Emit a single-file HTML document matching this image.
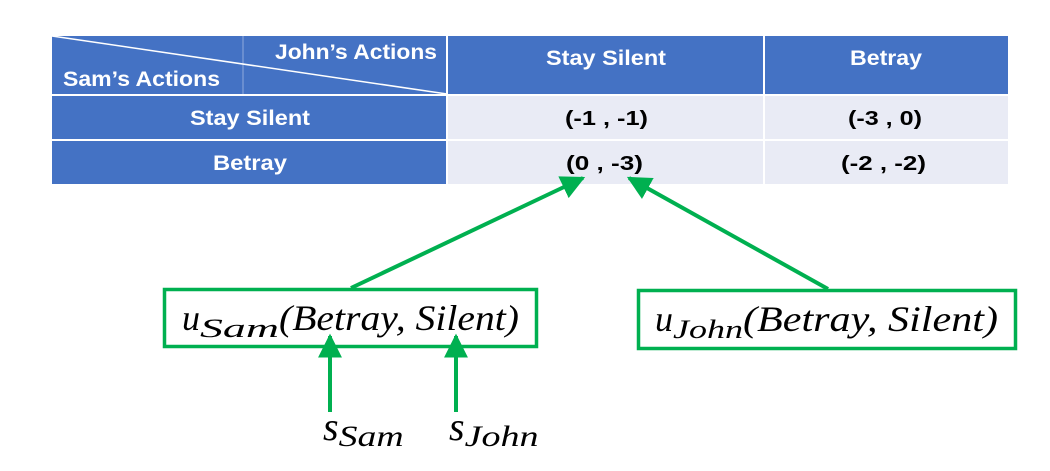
<!DOCTYPE html>
<html><head><style>
body{margin:0;background:#fff;width:1050px;height:471px;overflow:hidden}
svg{display:block}
.h{font-family:"Liberation Sans",sans-serif;font-weight:bold;fill:#fff;font-size:21px}
.c{font-family:"Liberation Sans",sans-serif;font-weight:bold;fill:#000;font-size:20px}
.m{font-family:"Liberation Serif",serif;font-style:italic;fill:#000}
</style></head><body>
<svg width="1050" height="471" viewBox="0 0 1050 471">
<defs>
<marker id="b" viewBox="0 0 10 10" refX="9" refY="5" markerWidth="24" markerHeight="24" orient="auto" markerUnits="userSpaceOnUse"><path d="M0,0L10,5L0,10z" fill="#00B050"/></marker></defs>
<rect x="52" y="36" width="395" height="148" fill="#4472C4"/>
<rect x="447" y="36" width="561" height="59" fill="#4472C4"/>
<rect x="447" y="95" width="561" height="89" fill="#E9EBF5"/>
<g stroke="#fff" stroke-width="2">
<line x1="52" y1="95" x2="1008" y2="95"/><line x1="52" y1="140" x2="1008" y2="140"/>
<line x1="447" y1="36" x2="447" y2="184"/><line x1="764" y1="36" x2="764" y2="184"/>
</g>
<line x1="243" y1="36" x2="243" y2="94" stroke="#8faadc" stroke-width="1"/>
<line x1="52" y1="36" x2="447" y2="94" stroke="#fff" stroke-width="1.5"/>
<text class="h" x="275" y="59" textLength="162" lengthAdjust="spacingAndGlyphs">John’s Actions</text>
<text class="h" x="63" y="86" textLength="157" lengthAdjust="spacingAndGlyphs">Sam’s Actions</text>
<text class="h" x="546" y="65" textLength="120" lengthAdjust="spacingAndGlyphs">Stay Silent</text>
<text class="h" x="850" y="65" textLength="72" lengthAdjust="spacingAndGlyphs">Betray</text>
<text class="h" x="190" y="125" textLength="120" lengthAdjust="spacingAndGlyphs">Stay Silent</text>
<text class="h" x="213" y="170" textLength="74" lengthAdjust="spacingAndGlyphs">Betray</text>
<text class="c" x="565" y="125" textLength="83" lengthAdjust="spacingAndGlyphs">(-1 , -1)</text>
<text class="c" x="848" y="125" textLength="74" lengthAdjust="spacingAndGlyphs">(-3 , 0)</text>
<text class="c" x="566" y="170" textLength="77" lengthAdjust="spacingAndGlyphs">(0 , -3)</text>
<text class="c" x="841" y="170" textLength="85" lengthAdjust="spacingAndGlyphs">(-2 , -2)</text>
<rect x="164.5" y="289.5" width="372" height="57" fill="none" stroke="#00B050" stroke-width="3.5"/>
<rect x="638.5" y="290.5" width="377" height="58" fill="none" stroke="#00B050" stroke-width="3.5"/>
<g stroke="#00B050" stroke-width="4" fill="none">
<line x1="351" y1="288" x2="583" y2="178" marker-end="url(#b)"/>
<line x1="828" y1="289" x2="629" y2="178" marker-end="url(#b)"/>
<line x1="330" y1="412" x2="330" y2="336" marker-end="url(#b)"/>
<line x1="456" y1="412" x2="456" y2="336" marker-end="url(#b)"/>
</g>
<text class="m" x="182" y="330" font-size="36">u<tspan font-size="26" dy="7" textLength="79" lengthAdjust="spacingAndGlyphs">Sam</tspan><tspan dy="-7" textLength="240" lengthAdjust="spacingAndGlyphs">(Betray, Silent)</tspan></text>
<text class="m" x="655" y="331" font-size="36">u<tspan font-size="26" dy="7" textLength="70" lengthAdjust="spacingAndGlyphs">John</tspan><tspan dy="-7" textLength="255" lengthAdjust="spacingAndGlyphs">(Betray, Silent)</tspan></text>
<text class="m" x="323" y="440" font-size="40">s<tspan font-size="30" dy="6" textLength="65" lengthAdjust="spacingAndGlyphs">Sam</tspan></text>
<text class="m" x="449" y="440" font-size="40">s<tspan font-size="30" dy="6" textLength="74" lengthAdjust="spacingAndGlyphs">John</tspan></text>
</svg>
</body></html>
